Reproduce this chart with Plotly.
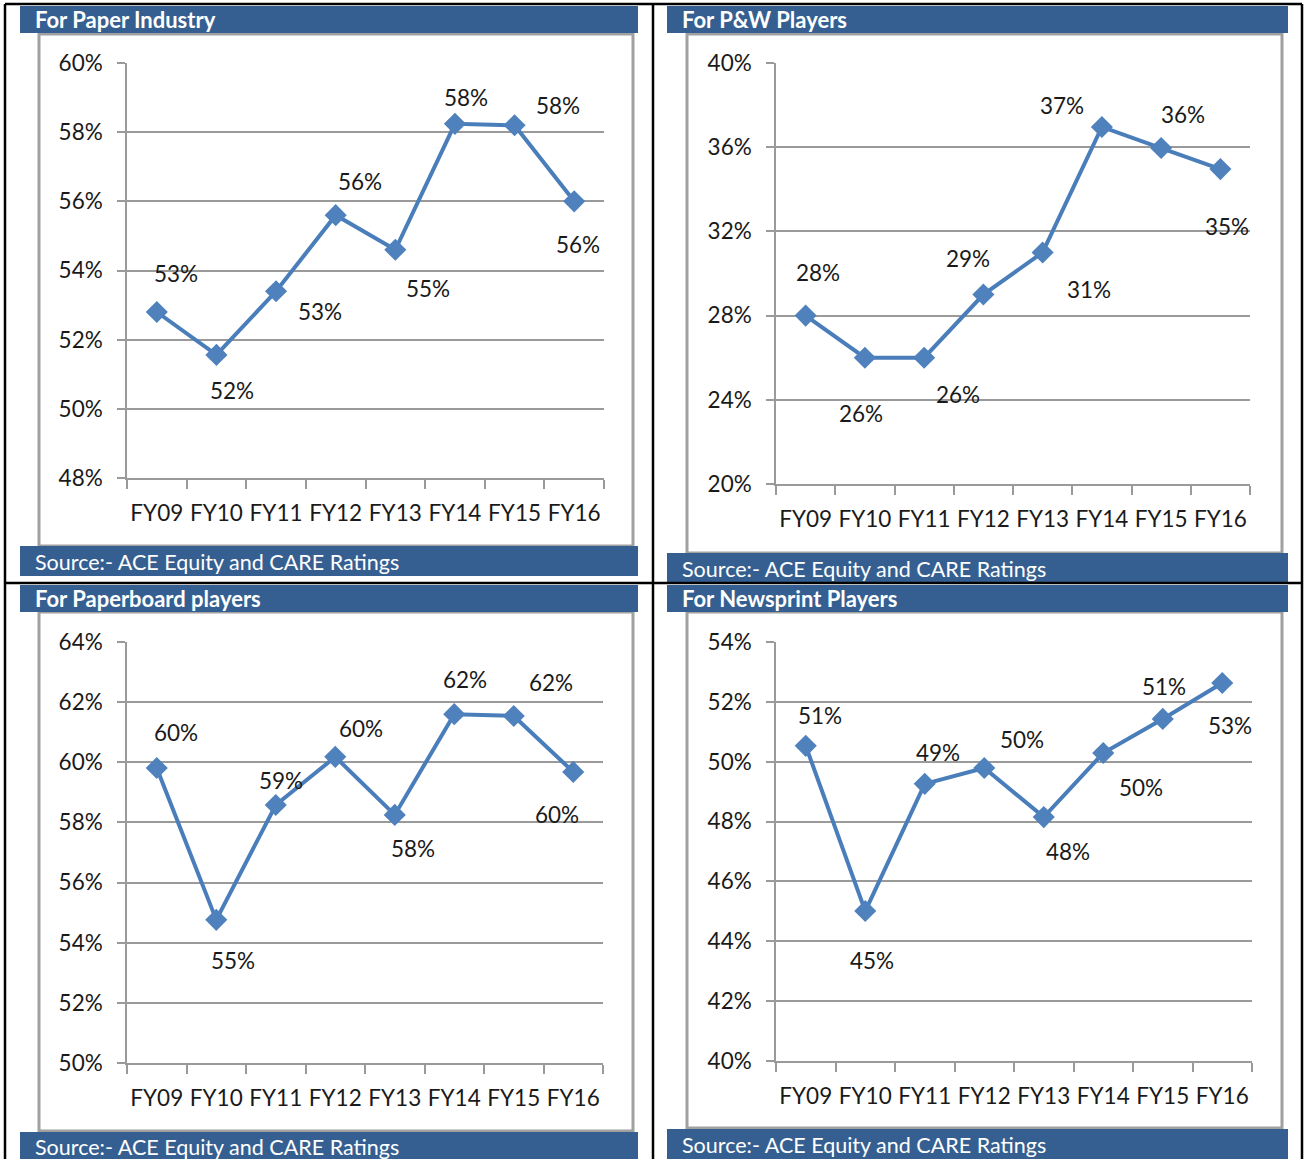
import plotly.graph_objects as go

W, H = 1306, 1159

categories = ["FY09", "FY10", "FY11", "FY12", "FY13", "FY14", "FY15", "FY16"]

paper_industry = [52.8, 51.56, 53.4, 55.6, 54.6, 58.24, 58.2, 56.0]
pw_players = [28.0, 26.0, 26.0, 29.0, 31.0, 36.96, 35.96, 34.96]
paperboard_players = [59.81, 54.76, 58.58, 60.18, 58.25, 61.6, 61.54, 59.68]
newsprint_players = [50.53, 45.01, 49.26, 49.79, 48.15, 50.29, 51.43, 52.63]

titles = ["For Paper Industry", "For P&W Players", "For Paperboard players", "For Newsprint Players"]
source_text = "Source:- ACE Equity and CARE Ratings"

y_ranges = [(48, 60, 2), (20, 40, 4), (50, 64, 2), (40, 54, 2)]

# label offsets (px) relative to each marker: (dx, dy-down)
label_offsets = [
    [(19, -39), (16, 36), (44, 20), (24, -34), (33, 39), (11, -26), (43, -20), (4, 43)],
    [(12, -43), (-4, 56), (34, 37), (-15, -36), (46, 37), (-40, -21), (22, -34), (7, 57)],
    [(19, -36), (17, 41), (5, -24), (26, -28), (18, 34), (11, -35), (37, -33), (-16, 43)],
    [(14, -30), (7, 49), (13, -31), (38, -29), (24, 34), (38, 34), (1, -32), (8, 42)],
]

series = [paper_industry, pw_players, paperboard_players, newsprint_players]

# plot areas in pixels: x0, x1, ytop, ybottom
plot_px = [(127, 604, 63, 478), (776, 1250, 63, 484), (127, 603, 642, 1063), (776, 1252, 642, 1061)]
title_px = [(20, 638, 6, 33), (667, 1288, 6, 33), (20, 638, 585, 612), (667, 1288, 585, 612)]
source_px = [(20, 638, 546, 576), (667, 1288, 553, 582), (20, 638, 1132, 1159), (667, 1288, 1129, 1159)]
box_px = [(39, 633, 34, 546), (687, 1282, 34, 553), (39, 633, 612, 1131), (687, 1282, 612, 1128)]

BAR = "#365F91"
LINE = "#4A7EBB"
GRID = "#9A9A9A"
FONT = "Lato"
TXT = "#1a1a1a"
FS = 22.5


def fx(px):
    return px / W


def fy(py):
    return 1 - py / H


fig = go.Figure()
shapes = []
annotations = []
layout = {}

for i in range(4):
    xa = "x" if i == 0 else f"x{i+1}"
    ya = "y" if i == 0 else f"y{i+1}"
    x0, x1, yt, yb = plot_px[i]
    lo, hi, step = y_ranges[i]
    vals = series[i]
    fig.add_trace(go.Scatter(
        x=categories, y=vals, xaxis=xa, yaxis=ya, mode="lines+markers",
        line=dict(color=LINE, width=4),
        marker=dict(symbol="diamond", size=17, color="#4F81BD", line=dict(width=0)),
        hoverinfo="skip", showlegend=False, cliponaxis=False,
    ))
    layout["xaxis" if i == 0 else f"xaxis{i+1}"] = dict(
        domain=[fx(x0), fx(x1)], anchor=ya, type="category", automargin=False,
        range=[-0.5, 7.5], showgrid=False, showline=True, linecolor=GRID, linewidth=1.5,
        ticks="outside", ticklen=9, tickwidth=1.5, tickcolor=GRID, tickson="boundaries",
        tickangle=0,
        tickfont=dict(family=FONT, size=FS, color=TXT), ticklabelstandoff=14,
        fixedrange=True,
    )
    layout["yaxis" if i == 0 else f"yaxis{i+1}"] = dict(
        domain=[fy(yb), fy(yt)], anchor=xa, range=[lo, hi], dtick=step, tick0=lo,
        automargin=False,
        ticksuffix="%", showgrid=True, gridcolor=GRID, gridwidth=1.5,
        showline=True, linecolor=GRID, linewidth=1.5, zeroline=False,
        ticks="outside", ticklen=8, tickwidth=1.5, tickcolor=GRID,
        tickfont=dict(family=FONT, size=FS, color=TXT), ticklabelstandoff=10,
        fixedrange=True,
    )
    for j, v in enumerate(vals):
        dx, dy = label_offsets[i][j]
        annotations.append(dict(
            x=categories[j], y=v, xref=xa, yref=ya, text=f"{int(v + 0.5)}%",
            showarrow=False, xshift=dx, yshift=-dy,
            font=dict(family=FONT, size=FS, color=TXT),
        ))

    # chart box
    bx0, bx1, by0, by1 = box_px[i]
    shapes.append(dict(type="rect", xref="paper", yref="paper",
                       x0=fx(bx0), x1=fx(bx1), y0=fy(by1), y1=fy(by0),
                       line=dict(color="#A0A0A0", width=3), fillcolor="rgba(0,0,0,0)", layer="below"))
    # title bar
    tx0, tx1, ty0, ty1 = title_px[i]
    shapes.append(dict(type="rect", xref="paper", yref="paper",
                       x0=fx(tx0), x1=fx(tx1), y0=fy(ty1), y1=fy(ty0),
                       line=dict(width=0), fillcolor=BAR, layer="above"))
    annotations.append(dict(x=fx(tx0 + 13), y=fy((ty0 + ty1) / 2), xref="paper", yref="paper",
                            xanchor="left", yanchor="middle", showarrow=False, text=f"<b>{titles[i]}</b>",
                            font=dict(family=FONT, size=22, color="white")))
    # source bar
    sx0, sx1, sy0, sy1 = source_px[i]
    shapes.append(dict(type="rect", xref="paper", yref="paper",
                       x0=fx(sx0), x1=fx(sx1), y0=fy(sy1), y1=fy(sy0),
                       line=dict(width=0), fillcolor=BAR, layer="above"))
    annotations.append(dict(x=fx(sx0 + 13), y=fy((sy0 + sy1) / 2 + 1), xref="paper", yref="paper",
                            xanchor="left", yanchor="middle", showarrow=False, text=source_text,
                            font=dict(family=FONT, size=21.5, color="white")))

# outer table lines
for (ax0, ay0, ax1, ay1) in [(5, 4, 1302, 4), (5, 583, 1302, 583), (5, 4, 5, 1159),
                            (653, 4, 653, 1159), (1302, 4, 1302, 1159)]:
    shapes.append(dict(type="line", xref="paper", yref="paper",
                       x0=fx(ax0), x1=fx(ax1), y0=fy(ay0), y1=fy(ay1),
                       line=dict(color="black", width=2.5), layer="above"))

fig.update_layout(
    width=W, height=H, margin=dict(l=0, r=0, t=0, b=0, autoexpand=False),
    paper_bgcolor="white", plot_bgcolor="white",
    shapes=shapes, annotations=annotations, showlegend=False,
    **layout,
)

fig.write_html("out.html")
